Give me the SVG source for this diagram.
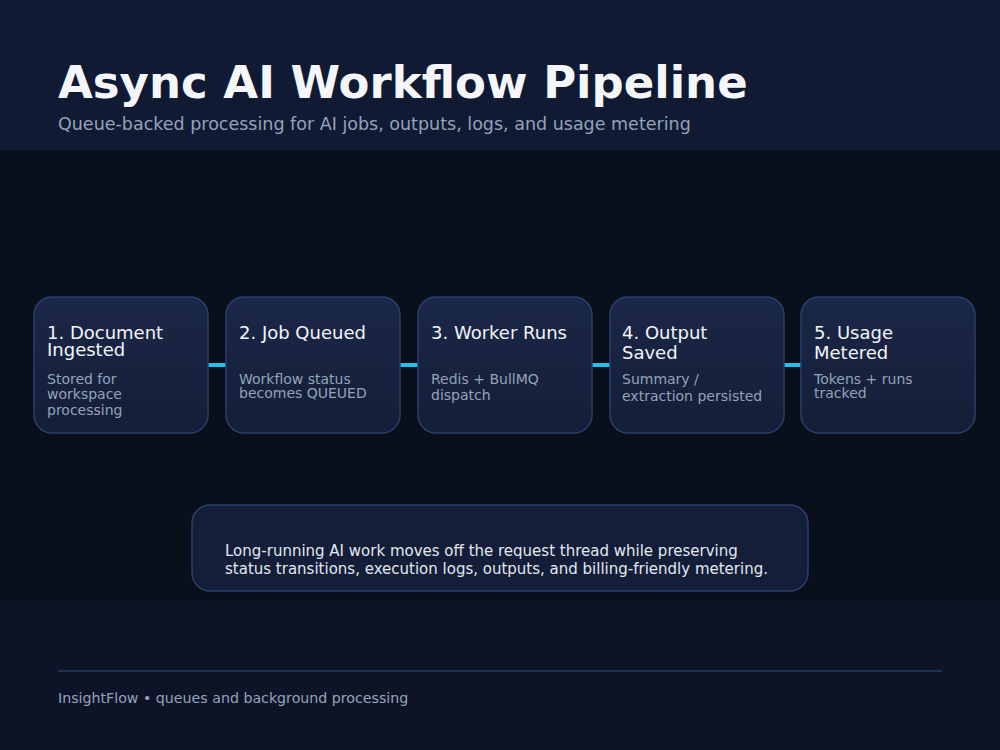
<svg xmlns="http://www.w3.org/2000/svg" width="1000" height="750" viewBox="0 0 1000 750">
<defs>
<linearGradient id="ng" x1="0" y1="0" x2="0" y2="1">
<stop offset="0" stop-color="#1b2747"/>
<stop offset="1" stop-color="#141e38"/>
</linearGradient>
<style>
text{font-family:"DejaVu Sans",sans-serif}
.node rect{fill:url(#ng);stroke:#2a3f6c;stroke-width:1.5}
.nt{font-size:18px;fill:#f1f5fb}
.nd{font-size:14px;fill:#94a3b8}
.conn line{stroke:#22c1ee;stroke-width:4}
</style>
</defs>
<rect x="0" y="0" width="1000" height="150" fill="#111a33"/>
<rect x="0" y="150" width="1000" height="450" fill="#0a0f1c"/>
<rect x="0" y="600" width="1000" height="150" fill="#0e1428"/>
<text x="58" y="98" font-size="45" font-weight="bold" fill="#f4f6fc">Async AI Workflow Pipeline</text>
<text x="58" y="130" font-size="17.5" fill="#94a3b8">Queue-backed processing for AI jobs, outputs, logs, and usage metering</text>
<g class="conn">
<line x1="208" y1="365" x2="226" y2="365"/>
<line x1="400" y1="365" x2="418" y2="365"/>
<line x1="592" y1="365" x2="610" y2="365"/>
<line x1="784" y1="365" x2="801" y2="365"/>
</g>
<g id="n1" class="node">
<rect x="34" y="297" width="174" height="136" rx="18"/>
<text class="nt" x="47" y="339">1. Document</text>
<text class="nt" x="47" y="356">Ingested</text>
<text class="nd" x="47" y="384">Stored for</text>
<text class="nd" x="47" y="399">workspace</text>
<text class="nd" x="47" y="415">processing</text>
</g>
<g id="n2" class="node">
<rect x="226" y="297" width="174" height="136" rx="18"/>
<text class="nt" x="239" y="339">2. Job Queued</text>
<text class="nd" x="239" y="384">Workflow status</text>
<text class="nd" x="239" y="398">becomes QUEUED</text>
</g>
<g id="n3" class="node">
<rect x="418" y="297" width="174" height="136" rx="18"/>
<text class="nt" x="431" y="339">3. Worker Runs</text>
<text class="nd" x="431" y="384">Redis + BullMQ</text>
<text class="nd" x="431" y="400">dispatch</text>
</g>
<g id="n4" class="node">
<rect x="610" y="297" width="174" height="136" rx="18"/>
<text class="nt" x="622" y="339">4. Output</text>
<text class="nt" x="622" y="359">Saved</text>
<text class="nd" x="622" y="384">Summary /</text>
<text class="nd" x="622" y="401">extraction persisted</text>
</g>
<g id="n5" class="node">
<rect x="801" y="297" width="174" height="136" rx="18"/>
<text class="nt" x="814" y="339">5. Usage</text>
<text class="nt" x="814" y="359">Metered</text>
<text class="nd" x="814" y="384">Tokens + runs</text>
<text class="nd" x="814" y="398">tracked</text>
</g>
<g id="summary">
<rect x="192" y="505" width="616" height="86" rx="18" fill="#141e38" stroke="#2a3f6c" stroke-width="1.5"/>
<text x="225" y="556" font-size="15" fill="#e2e8f0">Long-running AI work moves off the request thread while preserving</text>
<text x="225" y="574" font-size="15" fill="#e2e8f0">status transitions, execution logs, outputs, and billing-friendly metering.</text>
</g>
<line x1="58" y1="671" x2="942" y2="671" stroke="#2a3b62" stroke-width="1.5"/>
<text x="58" y="703" font-size="14.2" fill="#94a3b8">InsightFlow • queues and background processing</text>
</svg>
